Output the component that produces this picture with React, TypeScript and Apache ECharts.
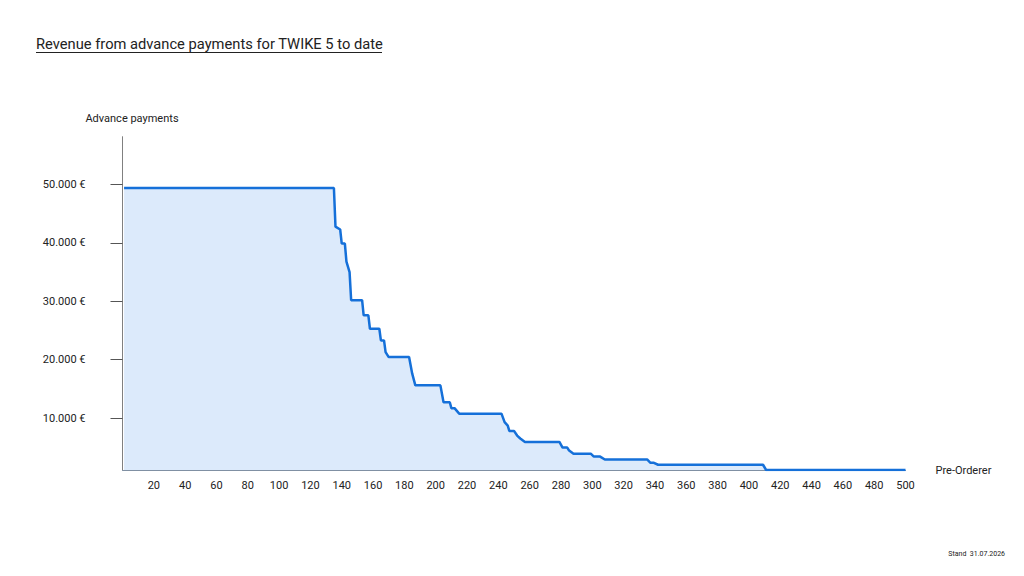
import React, { useEffect, useRef } from "react";
import * as echarts from "echarts";

const preOrderer = [
  1, 135, 136, 139, 140, 142, 143, 145, 146, 153, 154, 157, 158, 164, 165, 167, 168, 170,
  183, 185, 187, 203, 205, 209, 210, 212, 215, 242, 244, 246, 247, 250, 252, 254, 257, 279,
  281, 284, 285, 288, 299, 301, 305, 308, 335, 337, 339, 342, 409, 411, 500,
];
const payments = [
  49400, 49400, 42800, 42300, 39900, 39900, 36800, 35000, 30200, 30200, 27600, 27600, 25300, 25300, 23300, 23300, 21300, 20450,
  20450, 17600, 15600, 15600, 12700, 12700, 11700, 11700, 10750, 10750, 9300, 8700, 7800, 7800, 7000, 6500, 5900, 5900,
  4950, 4950, 4500, 3900, 3900, 3400, 3400, 2900, 2900, 2350, 2350, 2000, 2000, 1100, 1100,
];
const yTicks = [10000, 20000, 30000, 40000, 50000];

const titleText = "Revenue from advance payments for TWIKE 5 to date";
const yAxisName = "Advance payments";
const xAxisName = "Pre-Orderer";
const footnote = "Stand  31.07.2026";

const FONT = "Roboto";
const TEXT = "#222222";

function euro(v: number): string {
  return String(v).replace(/\B(?=(\d{3})+(?!\d))/g, ".") + " €";
}

export default function App() {
  const ref = useRef<HTMLDivElement>(null);
  useEffect(() => {
    if (!ref.current) return;
    const chart = echarts.init(ref.current, undefined, { renderer: "svg" });
    const data = preOrderer.map((x, i) => [x, payments[i]]);
    chart.setOption({
      animation: false,
      backgroundColor: "#ffffff",
      textStyle: { fontFamily: FONT },
      grid: { left: 122.5, right: 118.5, top: 136.7, bottom: 106 },
      graphic: [
        {
          type: "text",
          left: 36,
          top: 36,
          style: { text: titleText, fontFamily: FONT, fontSize: 14.7, fill: TEXT },
        },
        {
          type: "line",
          shape: { x1: 36, y1: 52.5, x2: 382, y2: 52.5 },
          style: { stroke: TEXT, lineWidth: 1 },
        },
        {
          type: "text",
          right: 19,
          top: 550,
          style: { text: footnote, fontFamily: FONT, fontSize: 7, fill: TEXT },
        },
      ],
      xAxis: {
        type: "value",
        min: 0,
        max: 500,
        interval: 20,
        name: xAxisName,
        nameLocation: "end",
        nameGap: 30,
        nameTextStyle: { fontFamily: FONT, fontSize: 11, color: TEXT, verticalAlign: "middle", padding: [0, 0, 4, 0] },
        axisLine: { show: true, lineStyle: { color: "#8090a3", width: 1 } },
        axisTick: { show: false },
        splitLine: { show: false },
        axisLabel: { showMinLabel: false, margin: 10, fontFamily: FONT, fontSize: 11, color: TEXT },
      },
      yAxis: {
        type: "value",
        min: 1100,
        max: 58200,
        name: yAxisName,
        nameLocation: "end",
        nameGap: 13,
        nameTextStyle: { fontFamily: FONT, fontSize: 11, color: TEXT, align: "center", padding: [0, 0, 0, 19] },
        axisLine: { show: true, lineStyle: { color: "#808080", width: 1 } },
        axisTick: { show: true, length: 12, customValues: yTicks, lineStyle: { color: "#555555" } },
        splitLine: { show: false },
        axisLabel: {
          customValues: yTicks,
          margin: 37,
          fontFamily: FONT,
          fontSize: 11,
          color: TEXT,
          formatter: (v: number) => euro(v),
        },
      },
      series: [
        {
          type: "line",
          data,
          symbol: "none",
          lineStyle: { color: "#1570d9", width: 2.5 },
          itemStyle: { color: "#1570d9" },
          areaStyle: { color: "#dceafb", opacity: 1 },
        },
      ],
    });
    return () => chart.dispose();
  }, []);
  return <div ref={ref} style={{ position: "fixed", left: 0, top: 0, width: 1024, height: 576 }} />;
}
